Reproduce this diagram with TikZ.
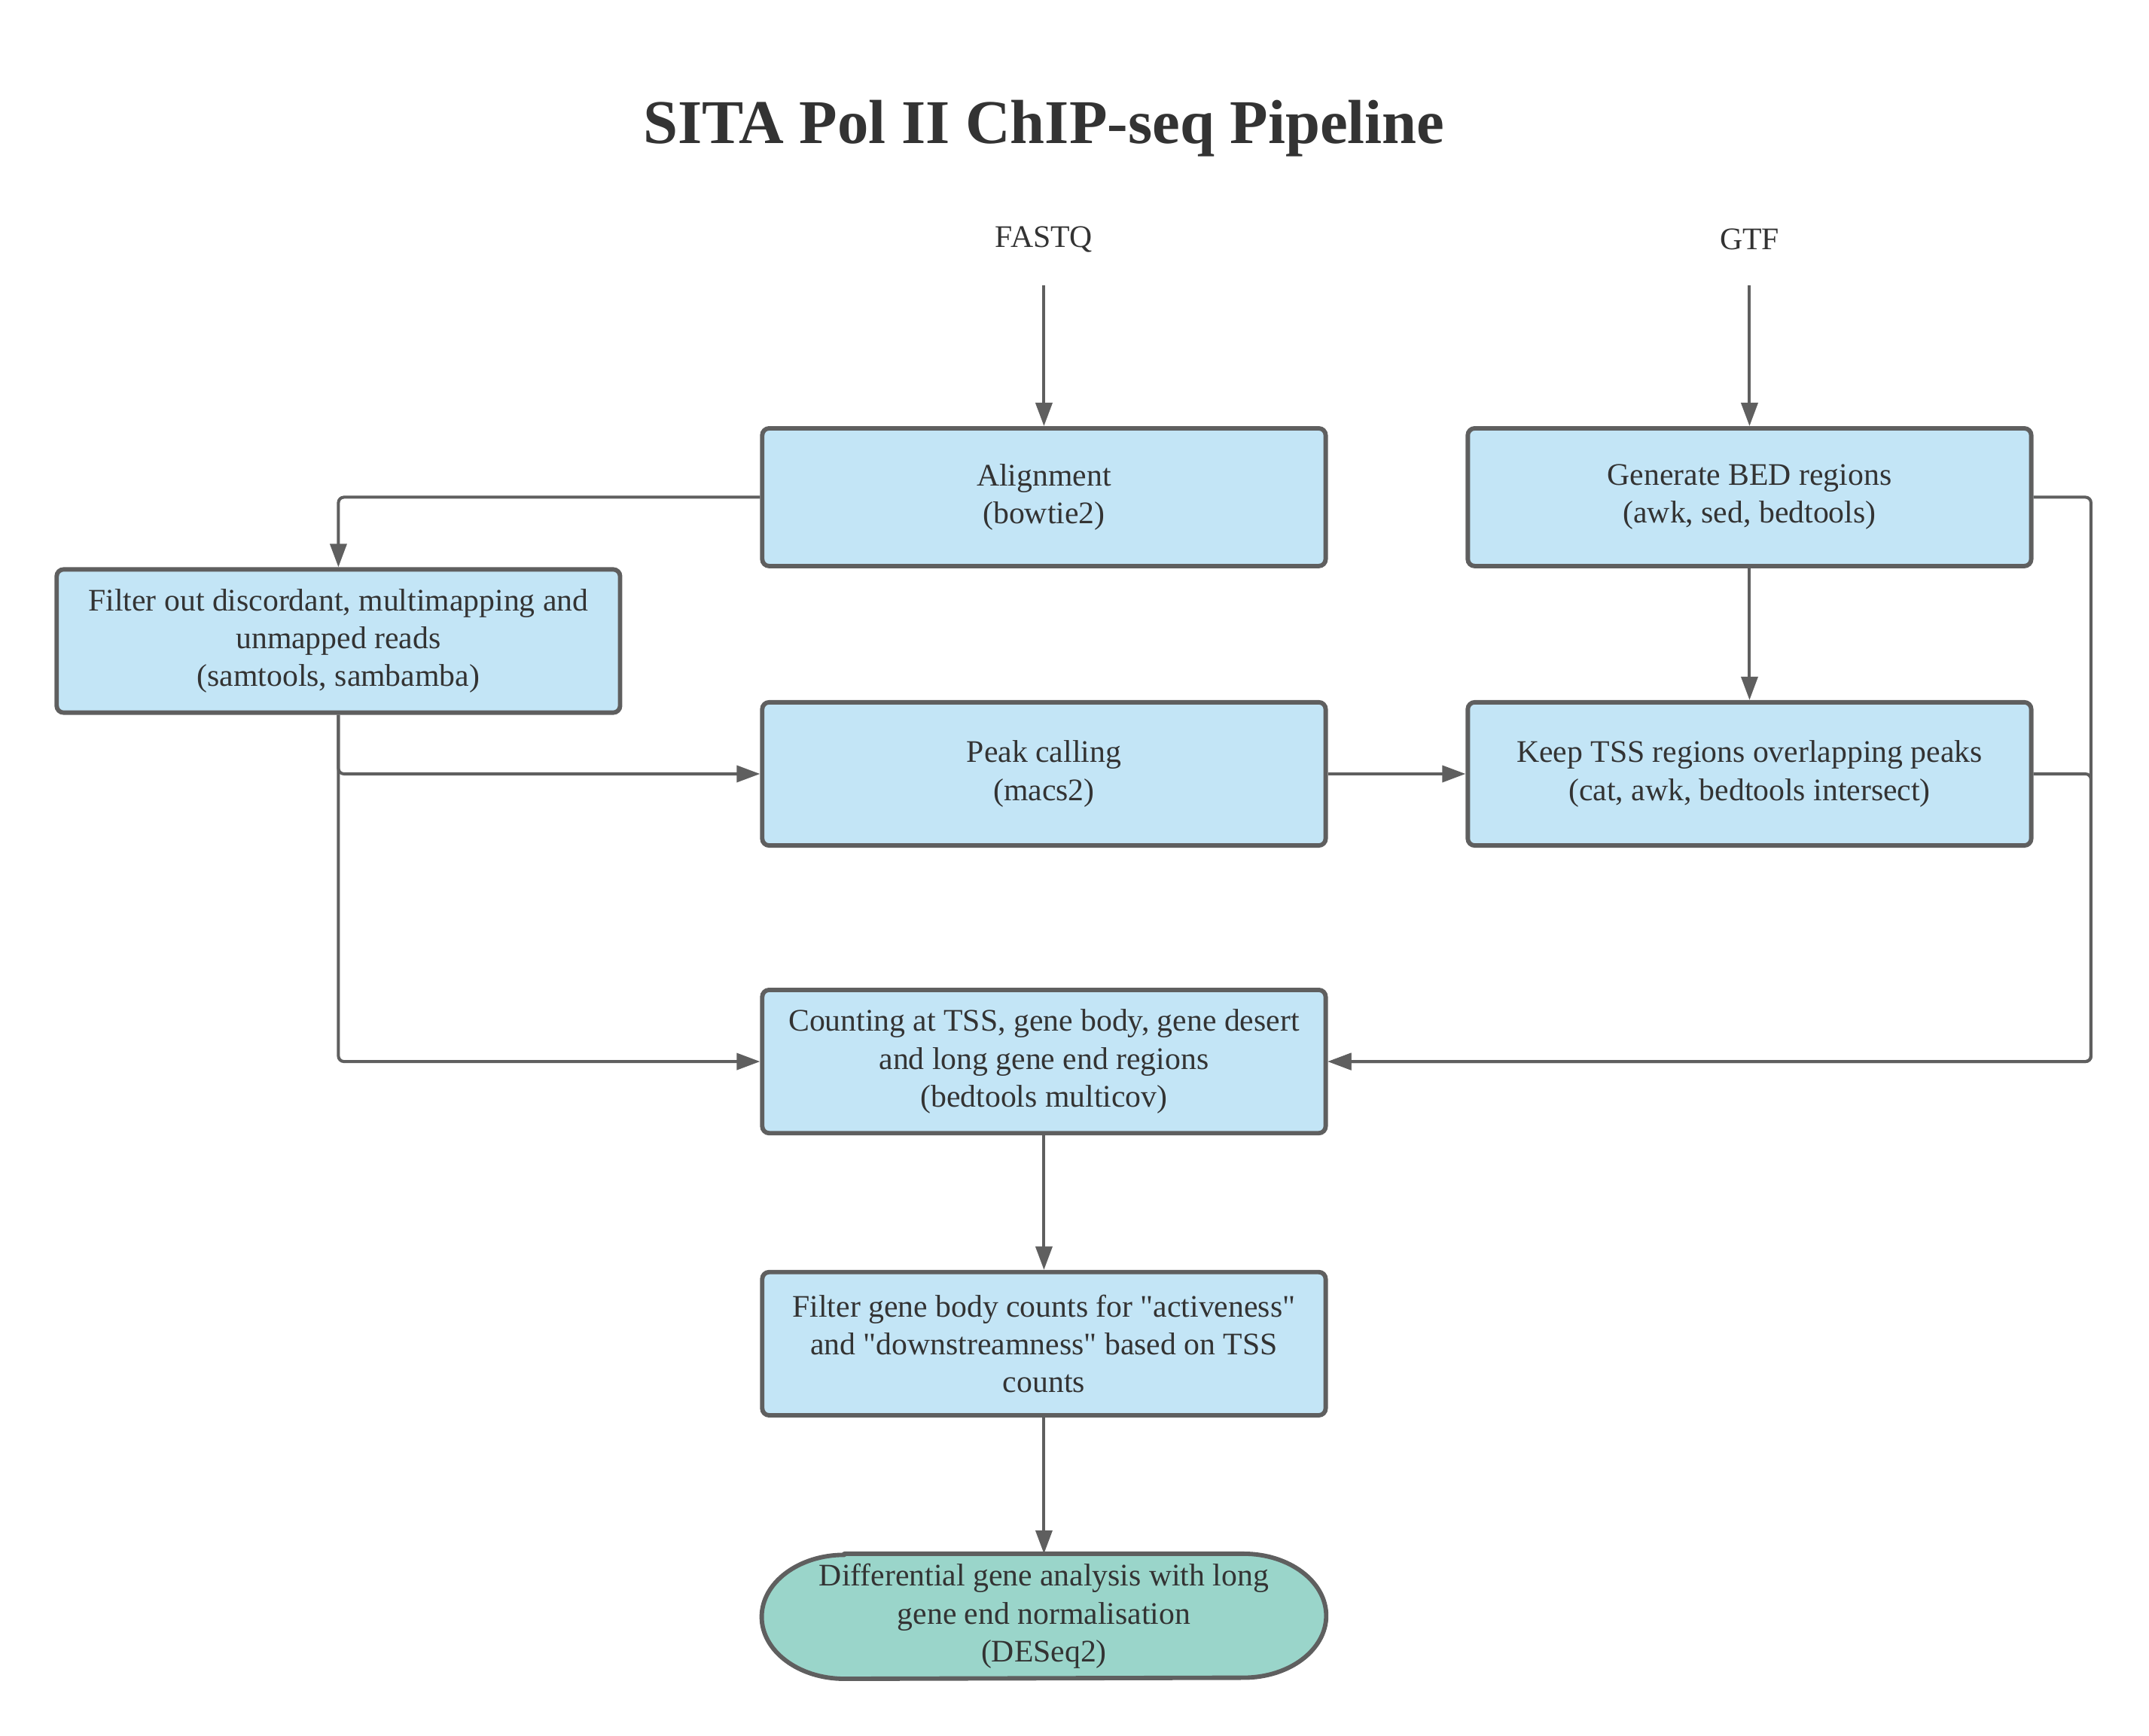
\documentclass[tikz,border=0pt]{standalone}
\usepackage{fontspec}
\setmainfont{Liberation Serif}[Ligatures=TeXOff]
\usetikzlibrary{arrows.meta,backgrounds}
\definecolor{boxblue}{HTML}{C3E5F6}
\definecolor{boxteal}{HTML}{9AD5CA}
\definecolor{edge}{HTML}{5F5F5F}
\definecolor{ink}{HTML}{333333}
\begin{document}
\begin{tikzpicture}[x=0.9945pt, y=0.9945pt,
  every node/.style={text=ink, font=\fontsize{11.4}{13.75}\selectfont},
  box/.style={draw=edge, line width=1.6pt, fill=boxblue, rounded corners=2.5pt,
    minimum width=204.5pt, align=center, inner sep=0pt},
  term/.style={minimum width=204.5pt, minimum height=45pt, align=center, inner sep=0pt},
  input/.style={minimum height=33pt, inner sep=0pt},
  arr/.style={draw=edge, line width=1.1pt, rounded corners=2pt,
    -{Triangle[length=8.5pt, width=6pt]}}]
  \useasboundingbox (0,0) rectangle (784.3,-633.7);

  \node[font=\fontsize{22.6}{27}\selectfont\bfseries] (title) at (381,-47) {SITA Pol II ChIP-seq Pipeline};

  \node[input] (fastq) at (381,-87.5) {FASTQ};
  \node[input] (gtf) at (638.5,-87.5) {GTF};

  \node[box, minimum height=50pt] (align) at (381,-181.5) {Alignment\\(bowtie2)};
  \node[box, minimum height=50pt] (bed) at (638.5,-181.5) {Generate BED regions\\(awk, sed, bedtools)};
  \node[box, minimum height=52pt] (filt) at (123.5,-234)
    {Filter out discordant, multimapping and\\unmapped reads\\(samtools, sambamba)};
  \node[box, minimum height=52pt] (peak) at (381,-282.5) {Peak calling\\(macs2)};
  \node[box, minimum height=52pt] (keep) at (638.5,-282.5)
    {Keep TSS regions overlapping peaks\\(cat, awk, bedtools intersect)};
  \node[box, minimum height=52pt] (count) at (381,-387.5)
    {Counting at TSS, gene body, gene desert\\and long gene end regions\\(bedtools multicov)};
  \node[box, minimum height=52pt] (gbody) at (381,-490.5)
    {Filter gene body counts for "activeness"\\and "downstreamness" based on TSS\\counts};
  \node[term] (deseq) at (381,-590)
    {Differential gene analysis with long\\gene end normalisation\\(DESeq2)};

  \begin{scope}[on background layer]
    \draw[draw=edge, line width=1.6pt, line join=round, fill=boxteal]
      ([xshift=30pt]deseq.north west) -- ([xshift=-30pt]deseq.north east)
      arc[start angle=90, end angle=-90, x radius=30pt, y radius=22.5pt]
      -- ([xshift=30pt]deseq.south west)
      arc[start angle=270, end angle=90, x radius=30pt, y radius=22.5pt] -- cycle;
  \end{scope}

  \draw[arr] (fastq) -- (align);
  \draw[arr] (gtf) -- (bed);
  \draw[arr] (align.west) -| (filt.north);
  \draw[arr] (filt.south) |- (peak.west);
  \draw[arr] (filt.south) |- (count.west);
  \draw[arr] (peak) -- (keep);
  \draw[arr] (bed) -- (keep);
  \draw[arr] (bed.east) -- ++(21,0) |- (count.east);
  \draw[arr] (keep.east) -- ++(21,0) |- (count.east);
  \draw[arr] (count) -- (gbody);
  \draw[arr] (gbody) -- (deseq);
\end{tikzpicture}
\end{document}
